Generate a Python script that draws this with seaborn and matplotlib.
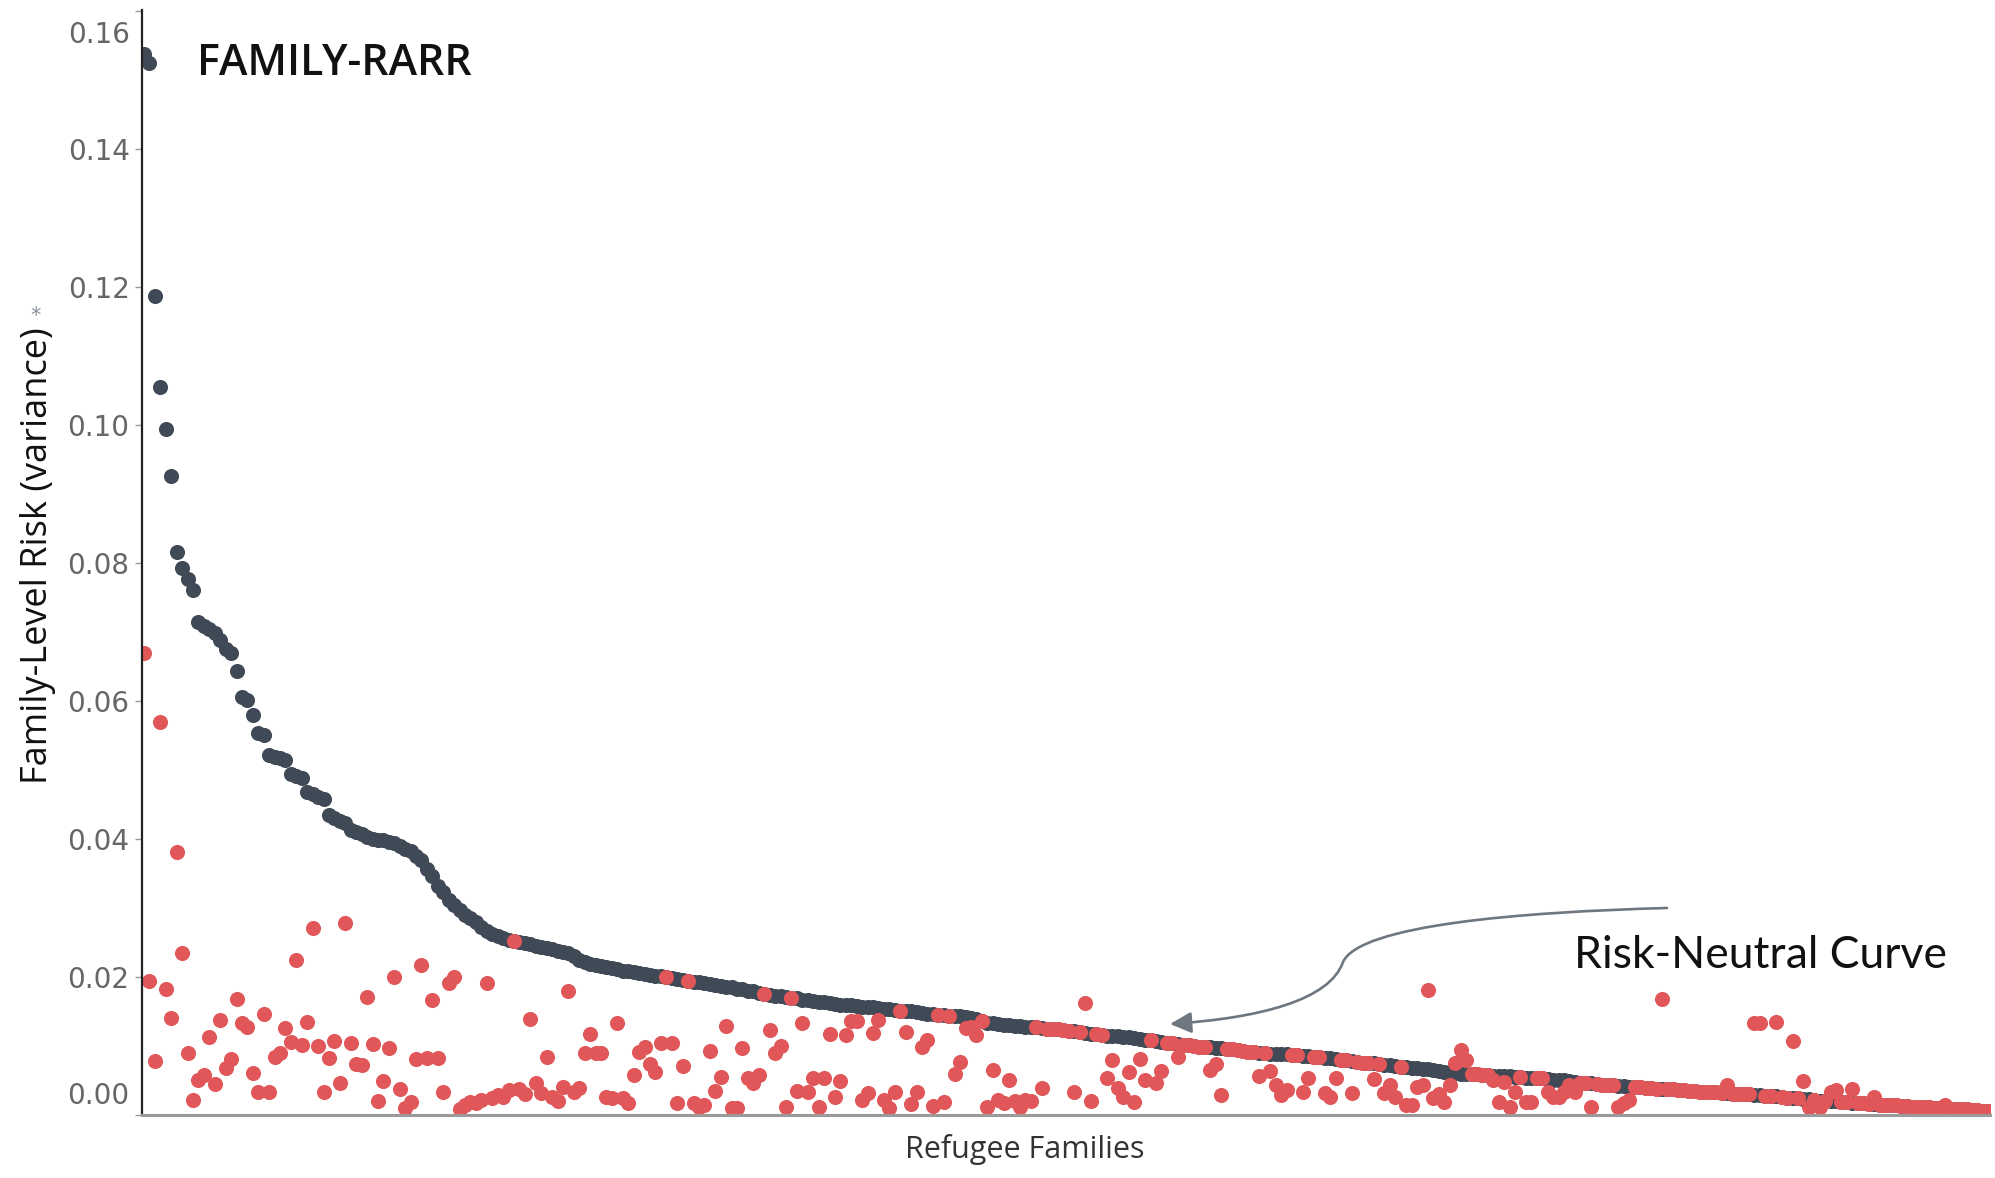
import numpy as np
import pandas as pd
import seaborn as sns
import matplotlib.pyplot as plt
from matplotlib.path import Path
from matplotlib.patches import FancyArrowPatch
from matplotlib.transforms import ScaledTranslation

# risk-neutral variance per family (x1000), families sorted high -> low
neutral_k = [
    153.7, 152.4, 118.6, 105.5, 99.4, 92.6, 81.6, 79.3, 77.7, 76.1,
    71.4, 70.9, 70.4, 69.9, 68.8, 67.5, 67.0, 64.4, 60.5, 60.1,
    58.0, 55.4, 55.0, 52.2, 51.9, 51.7, 51.5, 49.4, 49.1, 48.8,
    46.8, 46.5, 46.1, 45.8, 43.5, 43.0, 42.6, 42.3, 41.3, 41.0,
    40.7, 40.3, 40.0, 39.9, 39.8, 39.6, 39.4, 39.0, 38.6, 38.2,
    37.5, 37.0, 35.6, 34.6, 33.2, 32.3, 31.2, 30.4, 29.7, 29.0,
    28.6, 28.0, 27.3, 26.7, 26.2, 25.9, 25.6, 25.4, 25.2, 25.0,
    24.9, 24.8, 24.5, 24.3, 24.2, 24.0, 23.8, 23.6, 23.4, 23.0,
    22.5, 22.2, 21.9, 21.7, 21.6, 21.5, 21.3, 21.1, 20.9, 20.8,
    20.7, 20.6, 20.4, 20.3, 20.2, 20.1, 20.0, 19.9, 19.7, 19.6,
    19.4, 19.3, 19.2, 19.1, 19.0, 18.8, 18.7, 18.6, 18.5, 18.3,
    18.2, 18.0, 17.9, 17.7, 17.6, 17.4, 17.3, 17.2, 17.1, 17.0,
    16.9, 16.7, 16.6, 16.5, 16.4, 16.3, 16.2, 16.1, 16.0, 15.9,
    15.9, 15.8, 15.7, 15.7, 15.6, 15.5, 15.4, 15.3, 15.2, 15.1,
    15.1, 15.0, 14.9, 14.8, 14.7, 14.6, 14.5, 14.5, 14.4, 14.3,
    14.3, 14.2, 14.1, 13.9, 13.6, 13.4, 13.3, 13.2, 13.1, 13.0,
    12.9, 12.9, 12.8, 12.8, 12.7, 12.6, 12.5, 12.5, 12.4, 12.3,
    12.2, 12.1, 12.0, 11.9, 11.8, 11.7, 11.6, 11.5, 11.5, 11.4,
    11.3, 11.3, 11.2, 11.0, 10.9, 10.8, 10.7, 10.6, 10.5, 10.4,
    10.3, 10.2, 10.1, 10.0, 9.9, 9.9, 9.8, 9.7, 9.7, 9.6,
    9.5, 9.4, 9.3, 9.2, 9.1, 9.0, 9.0, 8.9, 8.9, 8.8,
    8.8, 8.7, 8.7, 8.6, 8.5, 8.4, 8.4, 8.3, 8.2, 8.1,
    8.0, 7.9, 7.8, 7.7, 7.6, 7.5, 7.5, 7.4, 7.3, 7.2,
    7.1, 7.0, 6.9, 6.8, 6.8, 6.7, 6.6, 6.5, 6.4, 6.3,
    6.2, 6.1, 6.0, 6.0, 5.9, 5.9, 5.8, 5.8, 5.7, 5.7,
    5.6, 5.6, 5.5, 5.5, 5.4, 5.4, 5.3, 5.3, 5.2, 5.1,
    5.0, 5.0, 4.9, 4.8, 4.7, 4.7, 4.6, 4.5, 4.4, 4.4,
    4.3, 4.2, 4.2, 4.1, 4.0, 4.0, 3.9, 3.9, 3.8, 3.8,
    3.7, 3.7, 3.6, 3.6, 3.5, 3.5, 3.4, 3.4, 3.3, 3.3,
    3.2, 3.2, 3.1, 3.1, 3.0, 3.0, 2.9, 2.9, 2.8, 2.7,
    2.7, 2.6, 2.5, 2.5, 2.4, 2.3, 2.3, 2.2, 2.1, 2.1,
    2.0, 2.0, 1.9, 1.9, 1.8, 1.8, 1.7, 1.6, 1.6, 1.5,
    1.5, 1.4, 1.4, 1.3, 1.3, 1.2, 1.2, 1.1, 1.1, 1.0,
    1.0, 0.9, 0.9, 0.8, 0.8, 0.8, 0.7, 0.7, 0.6, 0.6,
]

# FAMILY-RARR variance per family (x1000); None = same as risk-neutral value
rarr_k = [
    67.0, 19.4, 7.8, 57.0, 18.3, 14.1, 38.1, 23.5, 9.0, 2.2,
    5.1, 5.8, 11.3, 4.5, 13.8, 6.8, 8.1, 16.8, 13.3, 12.8,
    6.1, 3.4, 14.6, 3.3, 8.4, 9.0, 12.6, 10.6, 22.5, 10.2,
    13.5, 27.1, 10.0, 3.3, 8.3, 10.7, 4.6, 27.8, 10.4, 7.4,
    7.3, 17.1, 10.3, 2.0, 4.9, 9.7, 20.0, 3.8, 1.0, 1.9,
    8.1, 21.7, 8.3, 16.7, 8.3, 3.3, 19.1, 20.0, 0.8, 1.4,
    1.9, 1.7, 2.2, 19.1, 2.5, 2.9, 2.6, 3.6, None, 3.7,
    3.0, 13.9, 4.6, 3.2, 8.4, 2.6, 2.0, 4.1, 18.0, 3.3,
    3.9, 9.0, 11.7, 9.0, 9.0, 2.6, 2.4, 13.3, 2.5, 1.8,
    5.8, 9.1, 9.9, 7.4, 6.2, 10.4, None, 10.4, 1.7, 7.1,
    None, 1.7, 1.2, 1.4, 9.3, 3.5, 5.5, 12.9, 1.0, 1.0,
    9.7, 5.4, 4.6, 5.8, None, 12.3, 9.0, 10.0, 1.2, None,
    3.5, 13.3, 3.4, 5.4, 1.2, 5.4, 11.7, 2.6, 4.9, 11.6,
    13.6, 13.6, 2.2, 3.2, 11.9, 13.8, 2.2, 1.0, 3.3, None,
    12.0, 1.6, 3.3, 9.8, 10.9, 1.3, None, 1.9, None, 5.9,
    7.7, 12.6, 12.8, 11.6, None, 1.2, 6.5, 2.2, 1.7, 5.1,
    2.0, 1.2, 2.2, 2.0, None, 3.9, None, None, None, None,
    None, 3.3, None, 16.2, 2.0, None, None, 5.4, 8.0, 3.9,
    2.6, 6.2, 1.9, 8.1, 5.1, None, 4.6, 6.4, None, None,
    8.4, None, None, None, None, None, 6.5, 7.4, 2.9, None,
    None, None, None, None, None, 5.7, None, 6.4, 4.3, 2.9,
    3.6, None, None, 3.3, 5.4, None, None, 3.2, 2.6, 5.4,
    None, None, 3.2, None, None, None, 5.2, None, 3.2, 4.3,
    2.6, None, 1.4, 1.4, 4.1, 4.3, 18.1, 2.5, 3.0, 1.9,
    4.3, 7.5, 9.4, 8.0, None, None, None, None, 5.1, 1.9,
    4.8, 1.2, 3.3, None, 1.9, 1.9, None, None, 3.3, 2.6,
    2.6, 3.3, 4.3, 3.3, None, None, 1.2, None, None, None,
    None, 1.2, 1.7, 2.2, None, None, None, None, None, 16.8,
    None, None, None, None, None, None, None, None, None, None,
    None, 4.3, None, None, None, None, 13.3, 13.3, None, None,
    13.5, None, None, 10.7, None, 4.9, 1.2, None, 1.2, None,
    3.3, 3.6, None, None, 3.8, None, None, None, 2.6, None,
    None, None, None, None, None, None, None, None, None, None,
    None, 1.4, None, None, None, None, None, None, None, None,
]

ytick_vals = [0.00, 0.02, 0.04, 0.06, 0.08, 0.10, 0.12, 0.14, 0.16]
ytick_labels = ["0.00", "0.02", "0.04", "0.06", "0.08", "0.10", "0.12", "0.14", "0.16"]

neutral = np.array(neutral_k) / 1000
rarr = np.array([np.nan if v is None else v for v in rarr_k]) / 1000
rarr = np.where(np.isnan(rarr), neutral, rarr)
df = pd.DataFrame({"family": np.arange(len(neutral)), "neutral": neutral, "rarr": rarr})

sns.set_theme(style="white")
plt.rcParams["font.family"] = ["DejaVu Sans"]

fig = plt.figure(figsize=(19.95, 11.78), dpi=100)
ax = fig.add_axes([0.07118, 0.05348, 0.92632, 0.93803])

sns.scatterplot(data=df, x="family", y="neutral", color="#404a56", s=118,
                linewidth=0, ax=ax)
sns.scatterplot(data=df, x="family", y="rarr", color="#e15759", s=118,
                linewidth=0, ax=ax)

ax.set_xlim(-0.37, 339.3)
ax.set_ylim(0, 0.1601)
ax.set_xlabel("")
ax.set_ylabel("")
ax.set_xticks([])
ax.set_yticks(ytick_vals)
ax.set_yticklabels(ytick_labels)
ax.tick_params(axis="y", left=True, length=5, width=1, color="#999999",
               labelsize=20, labelcolor="#666666", pad=4)

# tableau nudges the end labels inside the axis
lbls = ax.get_yticklabels()
lbls[0].set_transform(lbls[0].get_transform() + ScaledTranslation(0, 0.22, fig.dpi_scale_trans))
lbls[-1].set_transform(lbls[-1].get_transform() + ScaledTranslation(0, -0.21, fig.dpi_scale_trans))

for side in ["top", "right"]:
    ax.spines[side].set_visible(False)
ax.spines["left"].set_color("#222222")
ax.spines["left"].set_linewidth(1.6)
ax.spines["bottom"].set_color("#9a9a9a")
ax.spines["bottom"].set_linewidth(2.2)

fig.text(0.019, 0.528, "Family-Level Risk (variance)", rotation=90, ha="center",
         va="center", fontsize=26, color="#111111", family=["Open Sans", "DejaVu Sans"])
fig.text(0.018, 0.732, "*", ha="center", va="center", fontsize=15, color="#8a9099")
fig.text(0.5138, 0.0246, "Refugee Families", ha="center", va="center",
         fontsize=22, color="#333333", family=["Open Sans", "DejaVu Sans"])
fig.text(0.0987, 0.946, "FAMILY-RARR", ha="left", va="center", fontsize=31,
         fontweight="semibold", color="#111111", family=["Open Sans", "DejaVu Sans"])
fig.text(0.789, 0.1885, "Risk-Neutral Curve", ha="left", va="center", fontsize=32,
         color="#111111", family=["Lato", "DejaVu Sans"])


def fpx(x, y):
    return (x / 1995, 1 - y / 1178)


verts = [fpx(1667, 908), fpx(1520, 912), fpx(1360, 925), fpx(1343, 962),
         fpx(1330, 1000), fpx(1260, 1018), fpx(1170, 1024)]
codes = [Path.MOVETO] + [Path.CURVE4] * 6
arrow = FancyArrowPatch(path=Path(verts, codes),
                        arrowstyle="-|>,head_length=0.65,head_width=0.32",
                        mutation_scale=20, color="#6e7680", lw=1.9,
                        transform=fig.transFigure)
fig.add_artist(arrow)

fig.savefig("out.png", dpi=100)
